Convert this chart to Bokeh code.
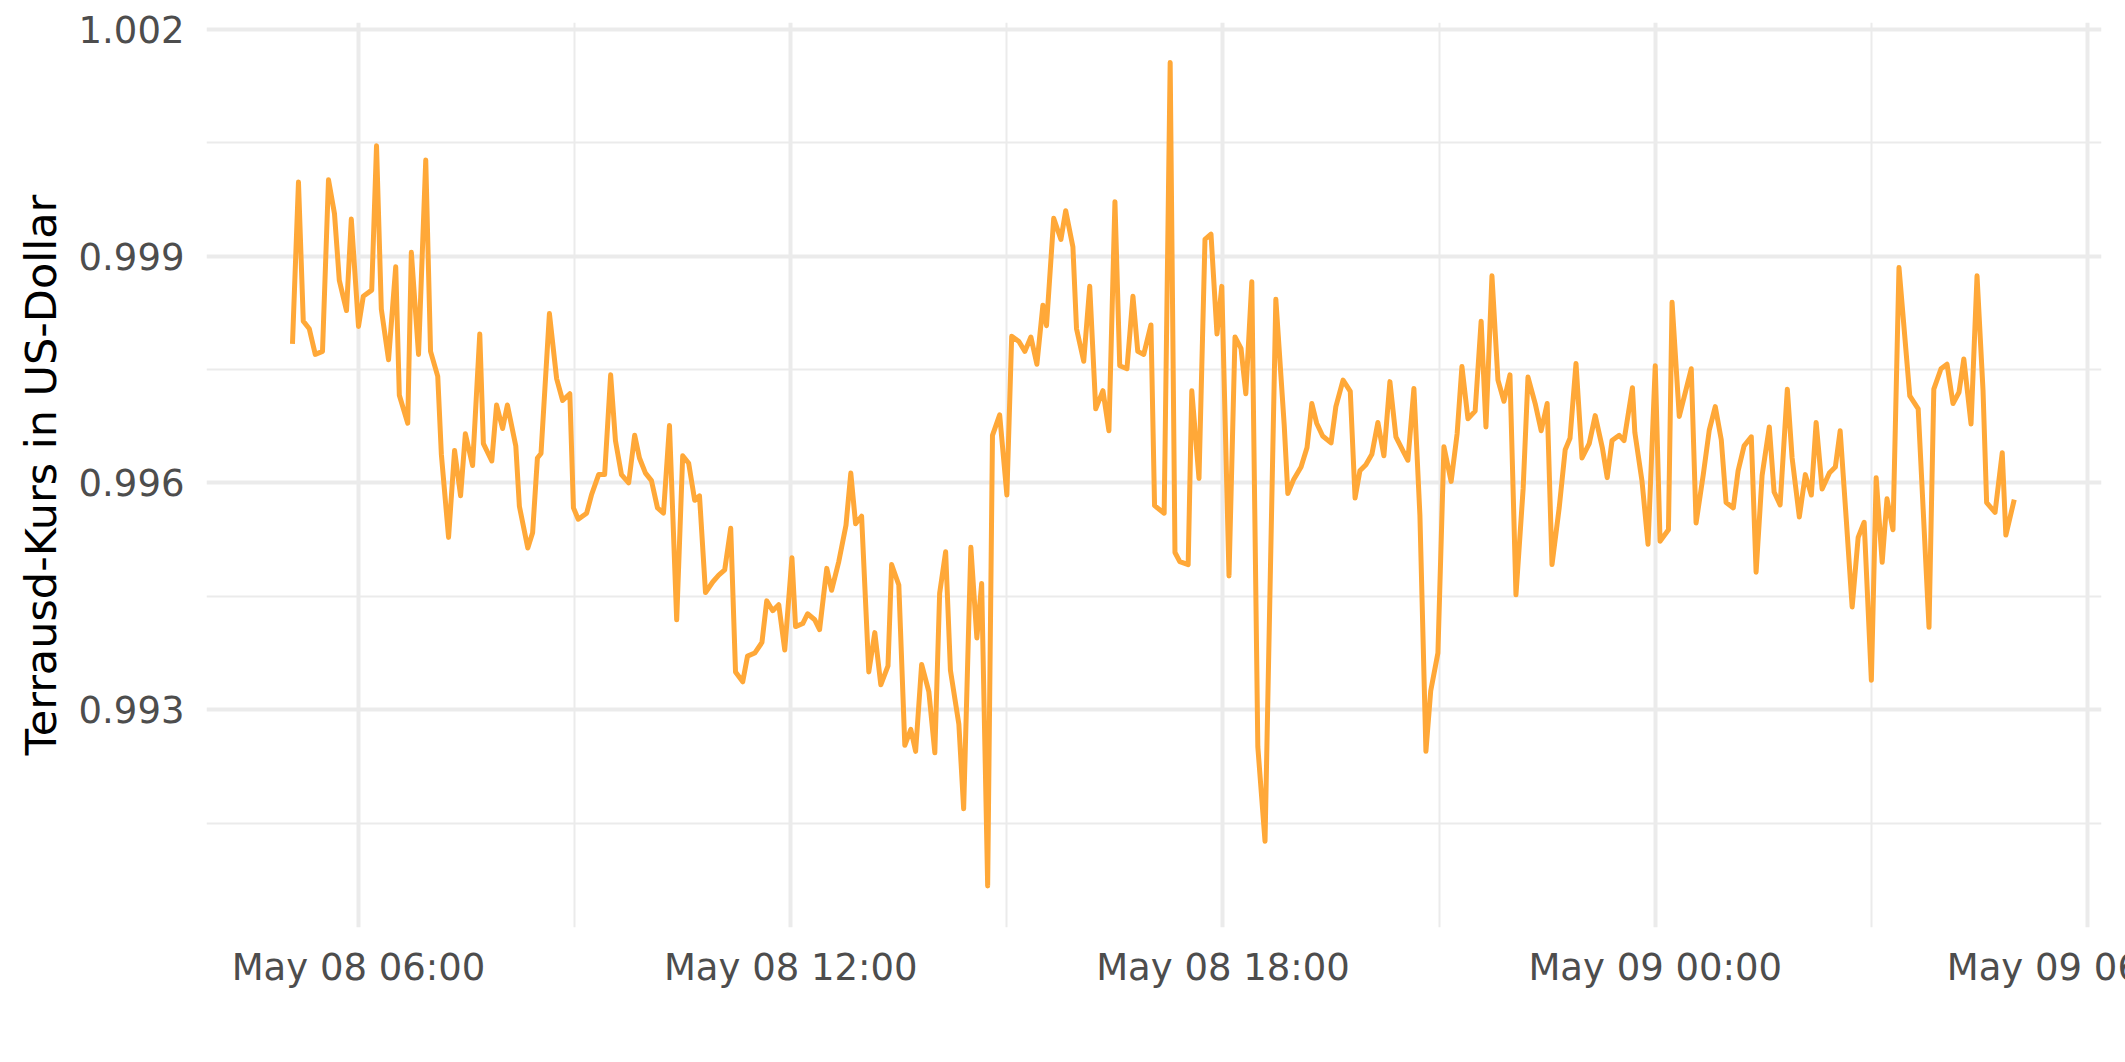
import pandas as pd
from bokeh.plotting import figure
from bokeh.models import (Range1d, FixedTicker, DatetimeTickFormatter,
                          PrintfTickFormatter, GlobalInlineStyleSheet)
from bokeh.embed import file_html
from bokeh.resources import INLINE

# --- data ---
times_may08 = [
    "05:05", "05:10", "05:14", "05:19", "05:24", "05:30", "05:35", "05:40", "05:44", "05:50",
    "05:54", "06:00", "06:04", "06:11", "06:15", "06:19", "06:25", "06:31", "06:34", "06:41",
    "06:44", "06:50", "06:56", "07:00", "07:06", "07:09", "07:15", "07:20", "07:25", "07:29",
    "07:35", "07:41", "07:44", "07:51", "07:55", "08:00", "08:04", "08:11", "08:14", "08:21",
    "08:25", "08:29", "08:32", "08:39", "08:45", "08:50", "08:56", "08:59", "09:03", "09:10",
    "09:14", "09:20", "09:25", "09:30", "09:34", "09:39", "09:45", "09:50", "09:54", "09:59",
    "10:04", "10:09", "10:14", "10:19", "10:25", "10:30", "10:35", "10:40", "10:44", "10:49",
    "10:55", "11:00", "11:05", "11:10", "11:14", "11:20", "11:24", "11:30", "11:36", "11:40",
    "11:45", "11:50", "11:55", "12:01", "12:04", "12:10", "12:14", "12:20", "12:24", "12:30",
    "12:34", "12:40", "12:46", "12:50", "12:54", "12:59", "13:05", "13:10", "13:15", "13:21",
    "13:24", "13:30", "13:35", "13:40", "13:44", "13:49", "13:55", "14:00", "14:04", "14:09",
    "14:13", "14:20", "14:24", "14:30", "14:35", "14:39", "14:44", "14:48", "14:54", "15:00",
    "15:04", "15:10", "15:15", "15:20", "15:25", "15:30", "15:33", "15:39", "15:45", "15:49",
    "15:55", "15:58", "16:04", "16:09", "16:14", "16:20", "16:25", "16:30", "16:34", "16:40",
    "16:45", "16:49", "16:54", "17:00", "17:03", "17:11", "17:16", "17:20", "17:24", "17:31",
    "17:34", "17:40", "17:45", "17:50", "17:55", "17:59", "18:05", "18:10", "18:15", "18:19",
    "18:24", "18:29", "18:35", "18:39", "18:44", "18:51", "18:54", "18:59", "19:05", "19:10",
    "19:14", "19:18", "19:23", "19:30", "19:34", "19:40", "19:46", "19:50", "19:54", "19:59",
    "20:04", "20:09", "20:14", "20:19", "20:24", "20:30", "20:34", "20:39", "20:44", "20:49",
    "20:53", "20:59", "21:04", "21:10", "21:15", "21:19", "21:24", "21:30", "21:35", "21:39",
    "21:44", "21:49", "21:54", "21:59", "22:04", "22:10", "22:14", "22:20", "22:25", "22:30",
    "22:34", "22:40", "22:45", "22:49", "22:54", "22:59", "23:05", "23:10", "23:16", "23:20",
    "23:24", "23:30", "23:34", "23:41", "23:43", "23:49", "23:54",
]
values_may08 = [
    0.99784, 0.99998, 0.99814, 0.99804, 0.99770, 0.99774, 1.00001, 0.99956, 0.99868, 0.99828,
    0.99949, 0.99807, 0.99847, 0.99855, 1.00046, 0.99830, 0.99763, 0.99886, 0.99716, 0.99679,
    0.99905, 0.99770, 1.00027, 0.99774, 0.99741, 0.99638, 0.99528, 0.99643, 0.99583, 0.99665,
    0.99623, 0.99797, 0.99652, 0.99629, 0.99703, 0.99672, 0.99703, 0.99649, 0.99569, 0.99514,
    0.99534, 0.99633, 0.99639, 0.99824, 0.99738, 0.99709, 0.99718, 0.99567, 0.99552, 0.99560,
    0.99584, 0.99611, 0.99611, 0.99743, 0.99656, 0.99611, 0.99600, 0.99663, 0.99633, 0.99613,
    0.99603, 0.99567, 0.99560, 0.99676, 0.99419, 0.99636, 0.99626, 0.99577, 0.99583, 0.99455,
    0.99469, 0.99478, 0.99485, 0.99540, 0.99350, 0.99337, 0.99371, 0.99375, 0.99389, 0.99444,
    0.99431, 0.99439, 0.99379, 0.99501, 0.99410, 0.99414, 0.99427, 0.99419, 0.99406, 0.99487,
    0.99458, 0.99496, 0.99544, 0.99613, 0.99546, 0.99556, 0.99350, 0.99402, 0.99333, 0.99358,
    0.99492, 0.99465, 0.99253, 0.99274, 0.99245, 0.99360, 0.99324, 0.99243, 0.99454, 0.99509,
    0.99352, 0.99281, 0.99169, 0.99515, 0.99395, 0.99467, 0.99067, 0.99663, 0.99690, 0.99584,
    0.99794, 0.99787, 0.99774, 0.99793, 0.99757, 0.99835, 0.99808, 0.99950, 0.99922, 0.99960,
    0.99912, 0.99804, 0.99761, 0.99860, 0.99698, 0.99722, 0.99669, 0.99972, 0.99755, 0.99751,
    0.99847, 0.99774, 0.99770, 0.99809, 0.99570, 0.99560, 1.00156, 0.99508, 0.99496, 0.99492,
    0.99722, 0.99606, 0.99922, 0.99929, 0.99797, 0.99860, 0.99477, 0.99793, 0.99778, 0.99718,
    0.99866, 0.99251, 0.99126, 0.99446, 0.99843, 0.99676, 0.99586, 0.99605, 0.99621, 0.99647,
    0.99705, 0.99679, 0.99662, 0.99653, 0.99701, 0.99736, 0.99721, 0.99580, 0.99616, 0.99624,
    0.99638, 0.99680, 0.99636, 0.99734, 0.99661, 0.99642, 0.99630, 0.99725, 0.99557, 0.99245,
    0.99325, 0.99375, 0.99648, 0.99602, 0.99665, 0.99754, 0.99685, 0.99695, 0.99814, 0.99674,
    0.99874, 0.99736, 0.99708, 0.99743, 0.99452, 0.99593, 0.99740, 0.99705, 0.99669, 0.99705,
    0.99492, 0.99567, 0.99644, 0.99659, 0.99758, 0.99633, 0.99652, 0.99689, 0.99646, 0.99607,
    0.99656, 0.99663, 0.99656, 0.99726, 0.99667, 0.99602, 0.99519,
]
times_may09 = [
    "00:00", "00:04", "00:11", "00:14", "00:20", "00:30", "00:34", "00:40", "00:45", "00:50",
    "00:55", "00:59", "01:05", "01:09", "01:14", "01:20", "01:24", "01:29", "01:35", "01:39",
    "01:44", "01:50", "01:54", "02:00", "02:05", "02:10", "02:14", "02:19", "02:25", "02:30",
    "02:34", "02:39", "02:44", "02:49", "02:54", "03:00", "03:04", "03:09", "03:13", "03:18",
    "03:23", "03:32", "03:39", "03:48", "03:52", "03:58", "04:03", "04:08", "04:13", "04:17",
    "04:23", "04:28", "04:33", "04:36", "04:43", "04:49", "04:52", "04:59",
]
values_may09 = [
    0.99755, 0.99523, 0.99538, 0.99839, 0.99688, 0.99751, 0.99547, 0.99611, 0.99670, 0.99701,
    0.99657, 0.99574, 0.99567, 0.99616, 0.99649, 0.99661, 0.99482, 0.99610, 0.99674, 0.99588,
    0.99571, 0.99724, 0.99633, 0.99555, 0.99611, 0.99584, 0.99680, 0.99592, 0.99613, 0.99621,
    0.99669, 0.99554, 0.99436, 0.99528, 0.99548, 0.99339, 0.99607, 0.99495, 0.99579, 0.99538,
    0.99885, 0.99715, 0.99698, 0.99409, 0.99724, 0.99751, 0.99757, 0.99705, 0.99720, 0.99764,
    0.99678, 0.99874, 0.99722, 0.99574, 0.99561, 0.99640, 0.99531, 0.99578,
]

y_ticks = [0.993, 0.996, 0.999, 1.002]
y_minor_ticks = [0.9915, 0.9945, 0.9975, 1.0005]
x_ticks = ["2022-05-08 06:00", "2022-05-08 12:00", "2022-05-08 18:00",
           "2022-05-09 00:00", "2022-05-09 06:00"]
x_minor_ticks = ["2022-05-08 03:00", "2022-05-08 09:00", "2022-05-08 15:00",
                 "2022-05-08 21:00", "2022-05-09 03:00"]
y_title = "Terrausd-Kurs in US-Dollar"

# --- build ---
t = pd.to_datetime(["2022-05-08 " + s for s in times_may08] +
                   ["2022-05-09 " + s for s in times_may09])
v = values_may08 + values_may09


def ms(s):
    return pd.Timestamp(s).value // 10**6


x_range = Range1d(start=ms("2022-05-08 03:53:24"), end=ms("2022-05-09 06:11:40"))
y_range = Range1d(start=0.99012, end=1.00209)

W = 2200
LEFT = 206
p = figure(width=W, height=1046, x_axis_type="datetime",
           x_range=x_range, y_range=y_range,
           output_backend="svg", toolbar_location=None,
           min_border_left=LEFT, min_border_right=W - (LEFT + 1895),
           min_border_top=22, min_border_bottom=119)

p.line(t, v, line_color="#FFA838", line_width=5, line_join="round")

p.xaxis.ticker = FixedTicker(ticks=[ms(s) for s in x_ticks],
                             minor_ticks=[ms(s) for s in x_minor_ticks])
p.yaxis.ticker = FixedTicker(ticks=y_ticks, minor_ticks=y_minor_ticks)

fmt = "%b %d %H:%M"
p.xaxis.formatter = DatetimeTickFormatter(
    microseconds=fmt, milliseconds=fmt, seconds=fmt, minsec=fmt, minutes=fmt,
    hourmin=fmt, hours=fmt, days=fmt, months=fmt, years=fmt)
p.yaxis.formatter = PrintfTickFormatter(format="%.3f")

for ax in (p.xaxis, p.yaxis):
    ax.axis_line_color = None
    ax.major_tick_line_color = None
    ax.minor_tick_line_color = None
    ax.major_label_text_font = "DejaVu Sans"
    ax.major_label_text_font_size = "37px"
    ax.major_label_text_color = "#4D4D4D"

p.xaxis.major_label_standoff = 12
p.yaxis.major_label_standoff = 16
p.yaxis.axis_label = y_title
p.yaxis.axis_label_text_font = "DejaVu Sans"
p.yaxis.axis_label_text_font_size = "43px"
p.yaxis.axis_label_text_font_style = "normal"
p.yaxis.axis_label_text_color = "#000000"
p.yaxis.axis_label_standoff = 10

for g in (p.xgrid, p.ygrid):
    g.grid_line_color = "#EBEBEB"
    g.grid_line_width = 4
    g.minor_grid_line_color = "#EBEBEB"
    g.minor_grid_line_width = 2

p.outline_line_color = None
p.background_fill_color = "white"
p.border_fill_color = "white"
p.stylesheets = [GlobalInlineStyleSheet(css="html, body { overflow: hidden; }")]

open("out.html", "w").write(file_html(p, INLINE))
